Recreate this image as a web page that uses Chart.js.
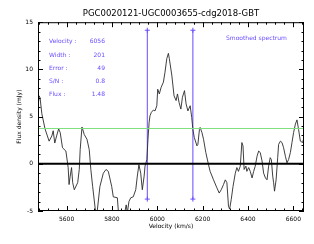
<!DOCTYPE html>
<html>
<head>
<meta charset="utf-8">
<script src="https://cdn.jsdelivr.net/npm/chart.js@4"></script>
<style>
  html, body { margin: 0; padding: 0; background: #fff; }
  #wrap { width: 314px; height: 244px; position: relative; }
</style>
</head>
<body>
<div id="wrap"><canvas id="spec"></canvas></div>
<script>
// spectrum (km/s, mJy)
const velocity = [5474, 5479, 5483, 5491, 5505, 5523, 5535, 5541, 5548, 5556, 5565, 5572, 5582, 5597, 5607, 5611, 5616, 5622, 5627, 5634,
  5649, 5656, 5660, 5668, 5678, 5690, 5700, 5707, 5715, 5726, 5733, 5747, 5762, 5774, 5784, 5799, 5806, 5824, 5828, 5840,
  5855, 5863, 5868, 5875, 5883, 5894, 5905, 5912, 5919, 5927, 5934, 5942, 5946, 5954, 5959, 5964, 5968, 5974, 5983, 5990,
  5998, 6002, 6009, 6017, 6027, 6034, 6042, 6049, 6053, 6064, 6074, 6083, 6089, 6096, 6104, 6111, 6120, 6127, 6135, 6145,
  6152, 6157, 6163, 6175, 6179, 6186, 6189, 6197, 6204, 6214, 6226, 6233, 6248, 6263, 6273, 6282, 6292, 6300, 6307, 6314,
  6319, 6326, 6334, 6344, 6351, 6358, 6366, 6373, 6378, 6383, 6391, 6395, 6403, 6410, 6418, 6425, 6432, 6440, 6447, 6454,
  6462, 6469, 6477, 6484, 6491, 6498, 6503, 6509, 6513, 6517, 6524, 6531, 6535, 6543, 6550, 6557, 6565, 6572, 6579, 6587,
  6594, 6601, 6609, 6616, 6623, 6631, 6641, 6647];
const flux = [6.0, 7.2, 7.0, 5.3, 3.7, 2.4, 2.95, 3.5, 2.2, 2.95, 3.7, 3.3, 1.7, 1.35, -0.4, -2.2, -1.3, -0.4, -2.0, -2.75,
  -2.0, -0.6, 1.5, 3.9, 3.1, 2.6, 1.5, -0.6, -2.4, -4.7, -5.5, -2.4, -1.0, -0.6, -0.8, -2.4, -3.5, -3.6, -4.9, -5.6,
  -5.3, -4.35, -5.2, -4.0, -3.6, -3.5, -2.75, -1.3, -0.1, -1.0, -2.75, -1.3, -0.25, 0.45, 2.6, 4.4, 5.1, 5.45, 5.7, 5.6,
  6.15, 7.9, 7.4, 8.1, 8.65, 9.7, 11.15, 11.7, 11.15, 9.4, 7.2, 6.7, 7.4, 6.5, 5.8, 7.05, 7.75, 6.35, 5.6, 6.15,
  4.9, 3.65, 2.8, 1.9, 2.05, 3.65, 3.85, 3.3, 2.6, 1.2, -0.1, -0.8, -1.7, -2.55, -3.1, -2.75, -2.2, -1.7, -2.0, -4.5,
  -4.8, -3.8, -2.4, -1.0, -0.4, -0.8, -0.25, 2.25, 1.9, -0.6, -0.25, -0.8, -0.4, -0.8, -1.5, -0.8, -0.25, 0.8, 1.35, 1.2,
  0.3, -1.0, -1.5, -1.7, -0.25, 0.65, 0.45, -1.3, -2.0, -2.9, -1.7, 0.65, 2.05, 2.4, 2.25, 1.7, 0.8, 0.1, 0.45, 1.2,
  2.25, 3.3, 4.2, 4.65, 3.65, 2.4, 2.25, 2.8];

const xRange = [5474, 6647];
const yRange = [-5, 15];
const xTicks = [5600, 5800, 6000, 6200, 6400, 6600];
const yTicks = [-5, 0, 5, 10, 15];

const windowEdges = [5956, 6157];
const windowSpan = [-3.74, 14.15];
const rmsLevel = 3.74;
const zeroLevel = 0;

const infoLabels = ['Velocity :', 'Width :', 'Error :', 'S/N :', 'Flux :'];
const infoValues = ['6056', '201', '49', '0.8', '1.48'];
const noteText = 'Smoothed spectrum';
const titleText = 'PGC0020121-UGC0003655-cdg2018-GBT';

const blue = '#6a4cff';
const font = 'DejaVu Sans';

// inward IDL style ticks, frame and the blue notes
const frameTicks = {
  id: 'frameTicks',
  afterDraw(chart) {
    const { ctx, chartArea: a, scales: { x, y } } = chart;
    ctx.save();
    ctx.strokeStyle = '#000';
    ctx.lineWidth = 1;
    ctx.strokeRect(a.left + 0.5, a.top + 0.5, a.width - 1, a.height - 1);
    ctx.beginPath();
    for (let v = Math.ceil(x.min / 40) * 40; v <= x.max; v += 40) {
      const px = Math.round(x.getPixelForValue(v)) + 0.5;
      const len = v % 200 === 0 ? 5 : 2.5;
      ctx.moveTo(px, a.bottom); ctx.lineTo(px, a.bottom - len);
      ctx.moveTo(px, a.top); ctx.lineTo(px, a.top + len);
    }
    for (let v = y.min; v <= y.max; v += 1) {
      const py = Math.round(y.getPixelForValue(v)) + 0.5;
      const len = v % 5 === 0 ? 5 : 2.5;
      ctx.moveTo(a.left, py); ctx.lineTo(a.left + len, py);
      ctx.moveTo(a.right, py); ctx.lineTo(a.right - len, py);
    }
    ctx.stroke();

    ctx.fillStyle = blue;
    ctx.font = '6px "' + font + '"';
    ctx.textBaseline = 'middle';
    infoLabels.forEach((lab, i) => {
      const ty = a.top + 19.5 + i * 13.3;
      ctx.textAlign = 'left';
      ctx.fillText(lab, a.left + 11, ty);
      ctx.textAlign = 'right';
      ctx.fillText(infoValues[i], a.left + 67, ty);
    });
    ctx.textAlign = 'left';
    ctx.fillText(noteText, a.left + 188, a.top + 16);
    ctx.restore();
  }
};

const spectrum = velocity.map((v, i) => ({ x: v, y: flux[i] }));

const datasets = [
  {
    data: [{ x: xRange[0], y: rmsLevel }, { x: xRange[1], y: rmsLevel }],
    borderColor: '#7fe07f', borderWidth: 1, pointRadius: 0
  },
  {
    data: [{ x: xRange[0], y: zeroLevel }, { x: xRange[1], y: zeroLevel }],
    borderColor: '#000', borderWidth: 2, pointRadius: 0
  },
  {
    data: spectrum,
    borderColor: '#2a2a2a', borderWidth: 0.9, pointRadius: 0, tension: 0
  }
];
windowEdges.forEach(v => {
  datasets.push({
    data: windowSpan.map(f => ({ x: v, y: f })),
    borderColor: blue, borderWidth: 1,
    pointStyle: 'cross', pointRadius: 2.5, pointBorderColor: blue, pointBorderWidth: 1
  });
});

new Chart(document.getElementById('spec'), {
  type: 'line',
  data: { datasets },
  options: {
    responsive: true,
    maintainAspectRatio: false,
    animation: false,
    parsing: false,
    layout: { padding: { left: 0, right: 10, top: 0, bottom: 0 } },
    elements: { line: { fill: false } },
    datasets: { line: { clip: 0 } },
    plugins: {
      legend: { display: false },
      tooltip: { enabled: false },
      title: {
        display: true,
        fullSize: false,
        text: titleText,
        color: '#000',
        font: { family: font, size: 8.5, weight: 'normal' },
        padding: { top: 9, bottom: 3 }
      }
    },
    scales: {
      x: {
        type: 'linear',
        min: xRange[0], max: xRange[1],
        afterBuildTicks: s => { s.ticks = xTicks.map(v => ({ value: v })); },
        afterFit: s => { s.height = 33; },
        grid: { display: false, drawTicks: false },
        border: { display: false },
        ticks: {
          color: '#000', padding: 5, maxRotation: 0, font: { family: font, size: 6 },
          callback: v => String(v)
        },
        title: {
          display: true, text: 'Velocity (km/s)', color: '#000',
          font: { family: font, size: 6 }, padding: { top: 0, bottom: 14 }
        }
      },
      y: {
        min: yRange[0], max: yRange[1],
        afterBuildTicks: s => { s.ticks = yTicks.map(v => ({ value: v })); },
        afterFit: s => { s.width = 38; },
        grid: { display: false, drawTicks: false },
        border: { display: false },
        ticks: { color: '#000', padding: 5, font: { family: font, size: 6 }, callback: v => String(v) },
        title: {
          display: true, text: 'Flux density (mJy)', color: '#000',
          font: { family: font, size: 6 }, padding: { top: 16, bottom: 0 }
        }
      }
    }
  },
  plugins: [frameTicks]
});
</script>
</body>
</html>
